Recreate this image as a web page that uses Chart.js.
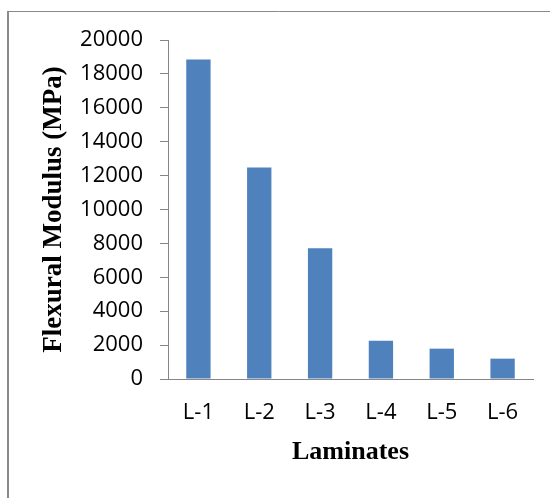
<!DOCTYPE html>
<html>
<head>
<meta charset="utf-8">
<script src="https://cdn.jsdelivr.net/npm/chart.js@4/dist/chart.umd.min.js"></script>
<style>
  html, body { margin: 0; padding: 0; background: #fff; }
  canvas { display: block; }
</style>
</head>
<body>
<canvas id="chart" width="550" height="498"></canvas>
<script>
// Laminate flexural modulus values (MPa)
const laminates = ['L-1', 'L-2', 'L-3', 'L-4', 'L-5', 'L-6'];
const flexuralModulus = [18850, 12480, 7720, 2260, 1790, 1200];
const yTickValues = [0, 2000, 4000, 6000, 8000, 10000, 12000, 14000, 16000, 18000, 20000];

const axisGray = '#868686';

// Thin frame around the figure, open on the right and bottom edges
const framePlugin = {
  id: 'frame',
  beforeDraw(chart) {
    const ctx = chart.ctx;
    ctx.save();
    ctx.strokeStyle = '#8a8a8a';
    ctx.lineWidth = 2;
    ctx.beginPath();
    ctx.moveTo(8, 11);
    ctx.lineTo(8, chart.height);
    ctx.stroke();
    ctx.lineWidth = 1;
    ctx.beginPath();
    ctx.moveTo(7, 11.5);
    ctx.lineTo(chart.width, 11.5);
    ctx.stroke();
    ctx.restore();
  }
};

new Chart(document.getElementById('chart'), {
  type: 'bar',
  data: {
    labels: laminates,
    datasets: [{
      data: flexuralModulus,
      backgroundColor: '#4F81BD',
      borderWidth: 0,
      barPercentage: 0.4,
      categoryPercentage: 1.0
    }]
  },
  options: {
    responsive: false,
    animation: false,
    devicePixelRatio: 1,
    layout: { padding: { left: 0, top: 40, right: 17, bottom: 0 } },
    plugins: {
      legend: { display: false },
      tooltip: { enabled: false }
    },
    scales: {
      x: {
        grid: { display: false, drawTicks: false },
        border: { display: true, color: axisGray, width: 1 },
        ticks: {
          color: '#000',
          padding: 21,
          font: { family: '"Open Sans", sans-serif', size: 22 }
        },
        title: {
          display: true,
          text: 'Laminates',
          color: '#000',
          padding: { top: 0, bottom: 30 },
          font: { family: '"Liberation Serif", "Times New Roman", serif', size: 26, weight: 'bold' }
        },
        afterFit(scale) { scale.height = 119; }
      },
      y: {
        min: 0,
        max: 20000,
        afterBuildTicks(scale) {
          scale.ticks = yTickValues.map(v => ({ value: v }));
        },
        grid: {
          display: true,
          drawOnChartArea: false,
          drawTicks: true,
          tickLength: 8,
          color: axisGray
        },
        border: { display: true, color: axisGray, width: 1 },
        ticks: {
          color: '#000',
          padding: 17,
          callback: v => String(v),
          font: { family: '"Open Sans", sans-serif', size: 22 }
        },
        title: {
          display: true,
          text: 'Flexural Modulus (MPa)',
          color: '#000',
          padding: { top: 38, bottom: 0 },
          font: { family: '"Liberation Serif", "Times New Roman", serif', size: 27, weight: 'bold' }
        },
        afterFit(scale) { scale.width = 168; }
      }
    }
  },
  plugins: [framePlugin]
});
</script>
</body>
</html>
